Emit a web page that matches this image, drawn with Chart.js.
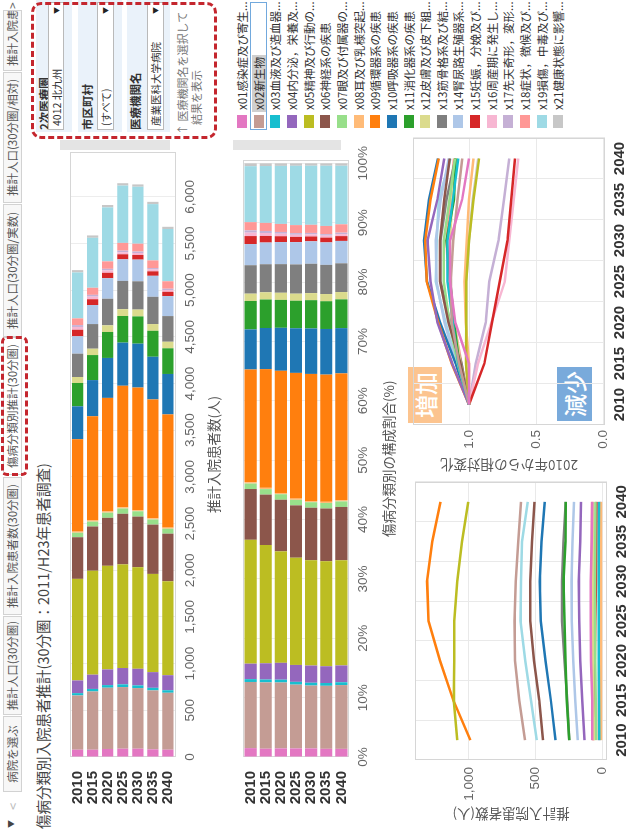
<!DOCTYPE html>
<html>
<head>
<meta charset="utf-8">
<script src="https://cdn.jsdelivr.net/npm/chart.js@4.4.1/dist/chart.umd.min.js"></script>
<style>
html, body { margin: 0; padding: 0; background: #fff; overflow: hidden; }
body { width: 630px; height: 832px; position: relative; font-family: "Noto Sans CJK JP", "Noto Sans", sans-serif; }
/* the dashboard is laid out upright (832x630) and turned a quarter left */
#dash { position: absolute; left: 0; top: 0; width: 832px; height: 630px; background: #fff;
        transform-origin: 0 0; transform: translate(0, 832px) rotate(-90deg); overflow: hidden; }
#dash > * { position: absolute; }
.tab { top: 3px; height: 19px; box-sizing: border-box; border: 1px solid #d2d2d2; background: #f7f7f7;
       font-size: 11.5px; color: #555; line-height: 17px; text-align: center; white-space: nowrap; overflow: hidden; }
.tab.sel { background: #fff; }
.redbox { border: 3px dashed #c4262e; box-sizing: border-box; }
.grp { background: #eaf2fa; }
.flabel { font-size: 11.5px; font-weight: bold; color: #333; line-height: 12px; white-space: nowrap; }
.drop { box-sizing: border-box; border: 1px solid #b9b9b9; background: #fff; font-size: 10.5px; color: #333;
        line-height: 15px; padding-left: 3px; white-space: nowrap; }
.drop span { position: absolute; right: 4px; top: 0; font-size: 7px; color: #222; }
.note { font-size: 11px; color: #777; white-space: nowrap; line-height: 13px; }
.hdr { background: #e4e4e4; }
.lg-sw { width: 13px; height: 10px; }
.lg-tx { font-size: 11.5px; color: #333; white-space: nowrap; line-height: 14px; }
.tag { color: #fff; font-size: 23px; font-weight: 500; text-align: center; line-height: 34px; }
</style>
</head>
<body>
<div id="dash">
  <div style="left:4px;top:5px;font-size:8px;color:#444;">▼</div>
  <div style="left:22px;top:3px;font-size:13px;color:#bbb;">&lt;</div>
  <div class="tab" style="left:40px;width:76px;">病院を選ぶ</div>
  <div class="tab" style="left:117px;width:99px;">推計人口(30分圏)</div>
  <div class="tab" style="left:217px;width:138px;">推計入院患者数(30分圏)</div>
  <div class="tab sel" style="left:357px;width:138px;">傷病分類別推計(30分圏)</div>
  <div class="tab" style="left:495px;width:133px;">推計人口(30分圏/実数)</div>
  <div class="tab" style="left:629px;width:131px;">推計人口(30分圏/相対)</div>
  <div class="tab" style="left:761px;width:61px;text-align:left;padding-left:4px;">推計入院患者数</div>
  <div style="left:823px;top:3px;font-size:12px;color:#666;">&gt;</div>
  <div class="redbox" style="left:356px;top:1px;width:140px;height:27px;border-radius:6px;"></div>

  <div style="left:3px;top:33px;font-size:14.5px;color:#444;white-space:nowrap;line-height:20px;">傷病分類別入院患者推計(30分圏：2011/H23年患者調査)</div>

  <div class="hdr" style="left:682px;top:60px;width:10px;height:110px;"></div>
  <div class="hdr" style="left:682px;top:233px;width:10px;height:108px;"></div>

  <div class="grp" style="left:700px;top:36px;width:132px;height:36px;"></div>
  <div class="flabel" style="left:702px;top:38px;">2次医療圏</div>
  <div class="drop" style="left:702px;top:48px;width:128px;height:16px;">4012 北九州<span>▼</span></div>
  <div class="grp" style="left:700px;top:78px;width:132px;height:44px;"></div>
  <div class="flabel" style="left:702px;top:81px;">市区町村</div>
  <div class="drop" style="left:702px;top:97px;width:128px;height:17px;">(すべて)<span>▼</span></div>
  <div class="grp" style="left:700px;top:127px;width:132px;height:43px;"></div>
  <div class="flabel" style="left:702px;top:129px;">医療機関名</div>
  <div class="drop" style="left:702px;top:147px;width:128px;height:17px;">産業医科大学病院<span>▼</span></div>
  <div class="note" style="left:697px;top:176px;">↑ 医療機関名を選択して</div>
  <div class="note" style="left:707px;top:190px;">結果を表示</div>
  <div class="redbox" style="left:693px;top:31px;width:137px;height:186px;border-radius:10px;"></div>

  <div class="tag" style="left:409px;top:408px;width:56px;height:34px;background:#fcc48f;">増加</div>
  <div class="tag" style="left:411px;top:557px;width:54px;height:35px;background:#79aadb;">減少</div>

  <canvas id="c1" width="692" height="170" style="left:0;top:55px;"></canvas>
  <canvas id="c2" width="692" height="172" style="left:0;top:228px;"></canvas>
  <canvas id="c3" width="360" height="230" style="left:0;top:400px;"></canvas>
  <canvas id="c4" width="345" height="230" style="left:355px;top:400px;"></canvas>
</div>
<script>
// categories
const years = ['2010', '2015', '2020', '2025', '2030', '2035', '2040'];
const legendLabels = [
  'x01感染症及び寄生...', 'x02新生物', 'x03血液及び造血器...', 'x04内分泌，栄養及...',
  'x05精神及び行動の...', 'x06神経系の疾患', 'x07眼及び付属器の...', 'x08耳及び乳様突起...',
  'x09循環器系の疾患', 'x10呼吸器系の疾患', 'x11消化器系の疾患', 'x12皮膚及び皮下組...',
  'x13筋骨格系及び結...', 'x14腎尿路生殖器系...', 'x15妊娠，分娩及び...', 'x16周産期に発生し...',
  'x17先天奇形，変形...', 'x18症状，徴候及び...', 'x19損傷，中毒及び...', 'x21健康状態に影響...'
];
const colors = [
  '#e377c2', '#c49c94', '#17becf', '#9467bd', '#bcbd22', '#8c564b', '#98df8a', '#ffbb78',
  '#ff7f0e', '#1f77b4', '#2ca02c', '#dbdb8d', '#7f7f7f', '#aec7e8', '#d62728', '#f7b6d2',
  '#c5b0d5', '#ff9896', '#9edae5', '#c7c7c7'
];

// estimated inpatients per year (persons)
const x01 = [78, 78, 86, 89, 89, 82, 78];
const x02 = [581, 624, 656, 660, 649, 631, 610];
const x03 = [25, 27, 28, 29, 29, 28, 27];
const x04 = [136, 153, 168, 175, 178, 168, 161];
const x05 = [1088, 1113, 1110, 1110, 1088, 1052, 1006];
const x06 = [446, 474, 514, 542, 542, 528, 510];
const x07 = [48, 52, 55, 57, 57, 55, 53];
const x08 = [12, 12, 12.3, 12.4, 12.2, 12, 11.6];
const x09 = [990, 1117, 1217, 1302, 1313, 1274, 1213];
const x10 = [352, 387, 428, 462, 470, 457, 433];
const x11 = [250, 268, 278, 285, 292, 278, 275];
const x12 = [64, 68, 71, 73, 73, 72, 70];
const x13 = [250, 264, 285, 303, 303, 292, 275];
const x14 = [186, 204, 220, 231, 232, 225, 214];
const x15 = [70, 62, 58, 54, 50, 48, 46];
const x16 = [30, 28, 25, 22, 21, 20, 19];
const x17 = [20, 19, 17.5, 17, 15.6, 14.8, 14];
const x18 = [72, 76, 80, 83, 84, 82, 80];
const x19 = [492, 535, 578, 614, 610, 603, 560];
const x21 = [25, 25.5, 25.5, 25.5, 25, 24.3, 23.3];
const series = [x01, x02, x03, x04, x05, x06, x07, x08, x09, x10, x11, x12, x13, x14, x15, x16, x17, x18, x19, x21];

// tick labels
const countTicks = [0, 500, 1000, 1500, 2000, 2500, 3000, 3500, 4000, 4500, 5000, 5500, 6000];
const pctTicks = [0, 10, 20, 30, 40, 50, 60, 70, 80, 90, 100];
const absTicks = [0, 500, 1000];
const relTicks = [0, 0.5, 1.0];

// share of the year total, and change against 2010
const totals = years.map((y, i) => series.reduce((a, s) => a + s[i], 0));
const shares = series.map(s => s.map((v, i) => v / totals[i] * 100));
const relative = series.map(s => s.map(v => v / s[0]));

// legend
const dash = document.getElementById('dash');
legendLabels.forEach((t, i) => {
  const cy = 242 + 16.65 * i;
  if (i === 1) {
    const b = document.createElement('div');
    b.style.cssText = `left:702px;top:${cy - 8.5}px;width:128px;height:17px;border:1px solid #72a9dd;box-sizing:border-box;`;
    dash.appendChild(b);
  }
  const sw = document.createElement('div');
  sw.className = 'lg-sw';
  sw.style.cssText += `left:704px;top:${cy - 5}px;background:${colors[i]};`;
  dash.appendChild(sw);
  const tx = document.createElement('div');
  tx.className = 'lg-tx';
  tx.textContent = t;
  tx.style.cssText += `left:722px;top:${cy - 7}px;` + (i === 1 ? 'background:#cfcfcf;padding:0 2px;left:720px;' : '');
  dash.appendChild(tx);
});

// thin frame round each plot area
const plotBox = {
  id: 'plotBox',
  beforeDatasetsDraw(chart) {
    const { ctx, chartArea: a } = chart;
    ctx.save();
    ctx.strokeStyle = '#d6d6d6';
    ctx.lineWidth = 1;
    ctx.strokeRect(Math.round(a.left) + 0.5, Math.round(a.top) + 0.5, Math.round(a.right - a.left) - 1, Math.round(a.bottom - a.top) - 1);
    ctx.restore();
  }
};

const numFont = { family: 'Liberation Sans', size: 13.5 };
const yearFont = { family: 'Liberation Sans', size: 15, weight: 'bold' };
const titleFont = { family: 'Noto Sans CJK JP', size: 13.5 };
const common = {
  responsive: false,
  animation: false,
  events: [],
  plugins: { legend: { display: false }, tooltip: { enabled: false } }
};

function barChart(id, data, max, ticks, fmt, title, pad, axisH, tickPad, titlePad, catPct) {
  return new Chart(document.getElementById(id), {
    type: 'bar',
    data: {
      labels: years,
      datasets: data.map((d, i) => ({ label: legendLabels[i], data: d, backgroundColor: colors[i], borderWidth: 0,
        categoryPercentage: catPct, barPercentage: 1 }))
    },
    options: {
      ...common,
      indexAxis: 'y',
      layout: { padding: { top: pad, right: 12, left: 0, bottom: 0 } },
      scales: {
        y: {
          stacked: true,
          afterFit(s) { s.width = 75; },
          grid: { display: false }, border: { display: false },
          ticks: { font: yearFont, color: '#333', padding: 6, autoSkip: false }
        },
        x: {
          stacked: true, min: 0, max: max,
          afterFit(s) { s.height = axisH; },
          afterBuildTicks(s) { s.ticks = ticks.map(v => ({ value: v })); },
          grid: { color: '#ededed', drawTicks: false }, border: { display: false },
          ticks: { font: numFont, color: '#666', padding: tickPad, maxRotation: 0, autoSkip: false, callback: fmt },
          title: { display: true, text: title, font: titleFont, color: '#555', padding: { top: 0, bottom: titlePad } }
        }
      }
    },
    plugins: [plotBox]
  });
}

barChart('c1', series, 6480, countTicks, v => v.toLocaleString('en-US'), '推計入院患者数(人)', 4.5, 49.5, 7, 3, 0.745);
barChart('c2', shares, 100.5, pctTicks, v => v + '%', '傷病分類別の構成割合(%)', 5, 51, 6, 3, 0.8);

function lineChart(id, data, min, max, ticks, fmt, title, padRight, yW, xH, yTitlePad, yTickPad) {
  return new Chart(document.getElementById(id), {
    type: 'line',
    data: {
      labels: years,
      datasets: data.map((d, i) => ({ label: legendLabels[i], data: d, borderColor: colors[i], borderWidth: 2.5,
        pointRadius: 0, fill: false, tension: 0 }))
    },
    options: {
      ...common,
      layout: { padding: { top: 5, right: padRight, left: 0, bottom: 0 } },
      scales: {
        x: {
          offset: true,
          afterFit(s) { s.height = xH; },
          grid: { offset: true, color: '#e9e9e9', drawTicks: false }, border: { display: false },
          ticks: { font: yearFont, color: '#333', padding: 6, maxRotation: 0, autoSkip: false }
        },
        y: {
          min: min, max: max,
          afterFit(s) { s.width = yW; },
          afterBuildTicks(s) { s.ticks = ticks.map(v => ({ value: v })); },
          grid: { color: '#e9e9e9', drawTicks: false }, border: { display: false },
          ticks: { font: numFont, color: '#666', padding: yTickPad, callback: fmt },
          title: { display: true, text: title, font: titleFont, color: '#555', padding: { top: yTitlePad, bottom: 0 } }
        }
      }
    },
    plugins: [plotBox]
  });
}

lineChart('c3', series, -33, 1403, absTicks, v => v.toLocaleString('en-US'), '推計入院患者数(人)', 10, 72, 23, 9.4, 7);
lineChart('c4', relative, -0.012, 1.416, relTicks, v => v.toFixed(1), '2010年からの相対変化', 6, 52, 25, 3.9, 5);
</script>
</body>
</html>
